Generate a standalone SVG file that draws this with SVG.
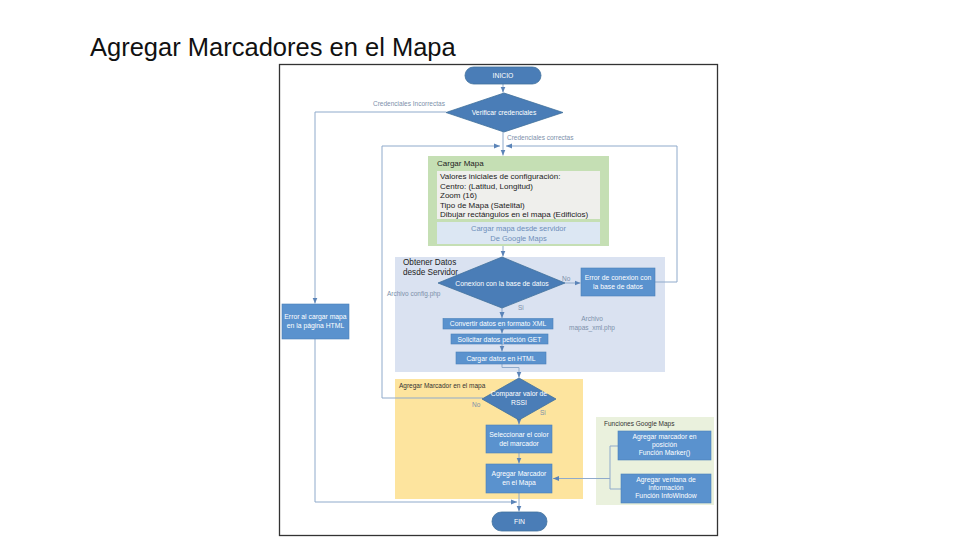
<svg xmlns="http://www.w3.org/2000/svg" width="960" height="540" viewBox="0 0 960 540">
<style>
text{font-family:"Liberation Sans",Arial,sans-serif}
.title{font-size:25.5px;fill:#111}
.pill{fill:#4A7DB7;stroke:#41719C;stroke-width:0.8}
.dia{fill:#4A7DB7;stroke:#41719C;stroke-width:0.8}
.box{fill:#5A92CE;stroke:#4A80BA;stroke-width:0.6}
.w{fill:#fff;font-size:6.8px;text-anchor:middle}
.lbl{fill:#7C90AA;font-size:6.5px}
.dk{fill:#222;font-size:8px}
.con{fill:none;stroke:#8FAACB;stroke-width:1}
</style>
<defs>
<marker id="ah" viewBox="0 0 6 6" refX="6" refY="3" markerWidth="6" markerHeight="6" markerUnits="userSpaceOnUse" orient="auto">
<path d="M0,0.5 L6,3 L0,5.5 Z" fill="#5B84B8"/>
</marker>
</defs>
<rect width="960" height="540" fill="#fff"/>
<text class="title" x="90" y="56">Agregar Marcadores en el Mapa</text>
<rect x="279.5" y="64.5" width="438" height="471" fill="#fff" stroke="#333" stroke-width="1.3"/>

<g id="regions">
<g id="cargar-mapa">
<rect x="428" y="156" width="181" height="90" fill="#C5DFB4"/>
<text class="dk" x="437" y="166">Cargar Mapa</text>
<rect x="437" y="171" width="163" height="48" fill="#EFEFEC"/>
<text class="dk" x="440" y="179">Valores iniciales de configuración:</text>
<text class="dk" x="440" y="188.5">Centro: (Latitud, Longitud)</text>
<text class="dk" x="440" y="198">Zoom (16)</text>
<text class="dk" x="440" y="207.5">Tipo de Mapa (Satelital)</text>
<text class="dk" x="440" y="217">Dibujar rectángulos en el mapa (Edificios)</text>
<rect x="437" y="222" width="163" height="22" fill="#DCE7F3"/>
<text x="518.5" y="231" font-size="7.5" fill="#6E8FBA" text-anchor="middle">Cargar mapa desde servidor</text>
<text x="518.5" y="241" font-size="7.5" fill="#6E8FBA" text-anchor="middle">De Google Maps</text>
</g>
<g id="obtener-datos">
<rect x="395" y="257" width="270" height="115" fill="#DAE2F1"/>
<text x="403" y="265" font-size="8.2" fill="#222">Obtener Datos</text>
<text x="403" y="274.5" font-size="8.2" fill="#222">desde Servidor</text>
</g>
<g id="agregar-marcador-region">
<rect x="395" y="379" width="188" height="120" fill="#FDE49E"/>
<text x="399" y="388" font-size="6.5" fill="#333">Agregar Marcador en el mapa</text>
</g>
<g id="funciones">
<rect x="596" y="417" width="118" height="88" fill="#EAF1DD"/>
<text x="604" y="426" font-size="6.5" fill="#333">Funciones Google Maps</text>
</g>
</g>

<g id="connectors">
<path class="con" d="M503 84 V92.5" marker-end="url(#ah)"/>
<path class="con" d="M446 112 H315 V303.5" marker-end="url(#ah)"/>
<path class="con" d="M315 339 V502 H517" marker-end="url(#ah)"/>
<path class="con" d="M503 132 V155.5" marker-end="url(#ah)"/>
<path class="con" d="M655 282 H677 V146 H506" marker-end="url(#ah)"/>
<path class="con" d="M483 398 H382 V146 H500" marker-end="url(#ah)"/>
<path class="con" d="M503 246 V256.5" marker-end="url(#ah)"/>
<path class="con" d="M565 283 H580.5" marker-end="url(#ah)"/>
<path class="con" d="M502 308 V318" marker-end="url(#ah)"/>
<path class="con" d="M502 329 V333.5" marker-end="url(#ah)"/>
<path class="con" d="M502 344 V351.5" marker-end="url(#ah)"/>
<path class="con" d="M502 364 V367.5 H519 V377.5" marker-end="url(#ah)"/>
<path class="con" d="M519 420 V424.5" marker-end="url(#ah)"/>
<path class="con" d="M519 453 V463.5" marker-end="url(#ah)"/>
<path class="con" d="M519 493 V511.5" marker-end="url(#ah)"/>
<path class="con" d="M618 446 H610 V489 H621"/>
<path class="con" d="M610 478.5 H553" marker-end="url(#ah)"/>
</g>

<g id="labels">
<text class="lbl" x="373" y="106">Credenciales Incorrectas</text>
<text class="lbl" x="507" y="140">Credenciales correctas</text>
<text class="lbl" x="562" y="281">No</text>
<text class="lbl" x="387" y="296">Archivo config.php</text>
<text class="lbl" x="518" y="310">Si</text>
<text class="lbl" x="592" y="321" text-anchor="middle">Archivo</text>
<text class="lbl" x="592" y="329.5" text-anchor="middle">mapas_xml.php</text>
<text class="lbl" x="472" y="407">No</text>
<text class="lbl" x="540" y="415">Si</text>
</g>

<g id="inicio">
<rect class="pill" x="465" y="67" width="76" height="17" rx="8.5"/>
<text class="w" x="503" y="78">INICIO</text>
</g>
<g id="verificar">
<polygon class="dia" points="504,93 563,112.5 504,132 446,112.5"/>
<text class="w" x="504" y="115">Verificar credenciales</text>
</g>
<g id="error-cargar">
<rect class="box" x="282" y="304" width="67" height="35"/>
<text class="w" x="315.5" y="319">Error al cargar mapa</text>
<text class="w" x="315.5" y="328">en la página HTML</text>
</g>
<g id="conexion">
<polygon class="dia" points="502,257 565,283 502,308 438,283"/>
<text class="w" x="502" y="285.5">Conexion con la base de datos</text>
</g>
<g id="error-conexion">
<rect class="box" x="581" y="268" width="74" height="28"/>
<text class="w" x="618" y="280">Error de conexion con</text>
<text class="w" x="618" y="289">la base de datos</text>
</g>
<g id="convertir">
<rect class="box" x="443" y="318.5" width="110" height="10.5"/>
<text class="w" x="498" y="326">Convertir datos en formato XML</text>
</g>
<g id="solicitar">
<rect class="box" x="451" y="334" width="97" height="10"/>
<text class="w" x="499.5" y="341.5">Solicitar datos petición GET</text>
</g>
<g id="cargar-datos">
<rect class="box" x="456" y="352" width="90" height="12"/>
<text class="w" x="501" y="360.5">Cargar datos en HTML</text>
</g>
<g id="comparar">
<polygon class="dia" points="519,378 556,399 519,420 482,399"/>
<text class="w" x="519" y="396">Comparar valor de</text>
<text class="w" x="519" y="405">RSSI</text>
</g>
<g id="seleccionar">
<rect class="box" x="486" y="425" width="66" height="28"/>
<text class="w" x="519" y="437">Seleccionar el color</text>
<text class="w" x="519" y="446">del marcador</text>
</g>
<g id="agregar-marcador">
<rect class="box" x="486" y="464" width="66" height="29"/>
<text class="w" x="519" y="476">Agregar Marcador</text>
<text class="w" x="519" y="485">en el Mapa</text>
</g>
<g id="fin">
<rect class="pill" x="492" y="512" width="55" height="19" rx="9.5"/>
<text class="w" x="519.5" y="524">FIN</text>
</g>
<g id="marker-fn">
<rect class="box" x="618" y="431" width="93" height="29"/>
<text class="w" x="664.5" y="439">Agregar marcador en</text>
<text class="w" x="664.5" y="447">posición</text>
<text class="w" x="664.5" y="455">Función Marker()</text>
</g>
<g id="infowindow-fn">
<rect class="box" x="621" y="474" width="90" height="29"/>
<text class="w" x="666" y="482">Agregar ventana de</text>
<text class="w" x="666" y="490">información</text>
<text class="w" x="666" y="498">Función InfoWindow</text>
</g>
</svg>
